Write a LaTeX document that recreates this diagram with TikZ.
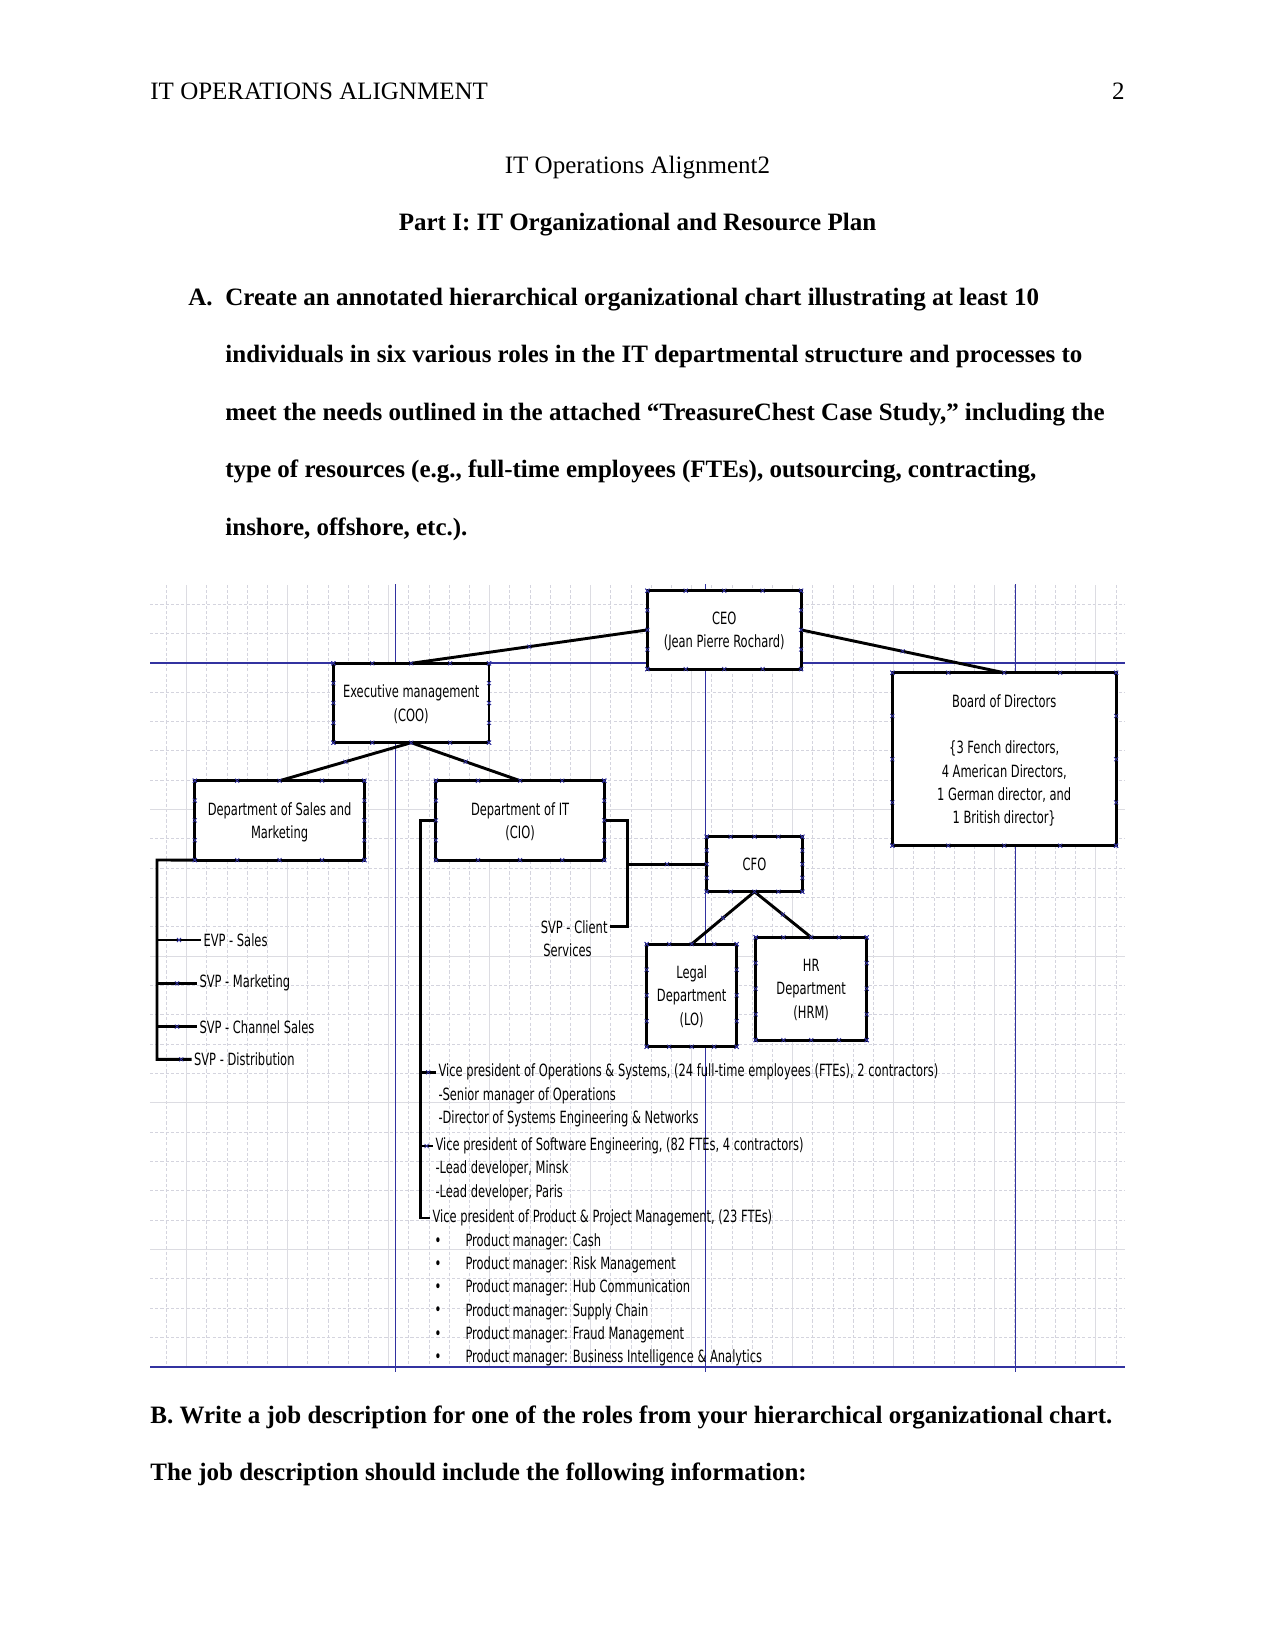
\documentclass[tikz,border=0pt]{standalone}
\usepackage{fontspec}
\setmainfont{Liberation Serif}
\newfontfamily\chartfont[FakeStretch=0.68]{DejaVu Sans}
\usepackage{tikz}
\usetikzlibrary{calc,shapes.misc}

\definecolor{gridgray}{RGB}{212,212,222}
\definecolor{gridline}{RGB}{220,220,226}
\definecolor{visioblue}{RGB}{50,50,160}

% connection points on the four edges of a box
\newcommand{\cpoints}[1]{%
  \foreach \f in {0,0.25,0.5,0.75,1}{%
    \node[cpx] at ($(#1.north west)!\f!(#1.north east)$) {};
    \node[cpx] at ($(#1.south west)!\f!(#1.south east)$) {};
    \node[cpx] at ($(#1.north west)!\f!(#1.south west)$) {};
    \node[cpx] at ($(#1.north east)!\f!(#1.south east)$) {};
  }}

\begin{document}
\begin{tikzpicture}[x=0.48pt, y=-0.48pt,
  pagetxt/.style={inner sep=0pt, font=\fontsize{12}{14}\selectfont},
  boldtxt/.style={inner sep=0pt, font=\fontsize{12}{14}\selectfont\bfseries},
  orgbox/.style={draw, fill=white, line width=1.4pt, align=center,
                 inner sep=0pt, outer sep=0pt, text depth=0pt,
                 font=\chartfont\fontsize{8.1}{11.2}\selectfont},
  listtxt/.style={inner sep=1pt, anchor=west,
                  font=\chartfont\fontsize{8.1}{11.2}\selectfont},
  conn/.style={line width=1.4pt},
  cpx/.style={cross out, draw=visioblue, line width=0.35pt,
              minimum size=1.6pt, inner sep=0pt},
  minorgrid/.style={gridgray, line width=0.4pt, dash pattern=on 1.5pt off 1pt},
  majorgrid/.style={gridline, line width=0.5pt},
  guide/.style={visioblue, line width=0.6pt}
]
\useasboundingbox (0,0) rectangle (1275,1651);

% page text
\node[pagetxt, anchor=base west] (runhead) at (150,99.5) {IT OPERATIONS ALIGNMENT};
\node[pagetxt, anchor=base east] (pageno) at (1125,99.5) {2};
\node[pagetxt, anchor=base] (title) at (637.5,174) {IT Operations Alignment2};
\node[boldtxt, anchor=base] (part) at (637.5,231) {Part I: IT Organizational and Resource Plan};
\node[boldtxt, anchor=base west] (itemA) at (188,305) {A.};
\foreach \l [count=\k from 0] in {{Create an annotated hierarchical organizational chart illustrating at least 10},
    {individuals in six various roles in the IT departmental structure and processes to},
    {meet the needs outlined in the attached “TreasureChest Case Study,” including the},
    {type of resources (e.g., full-time employees (FTEs), outsourcing, contracting,},
    {inshore, offshore, etc.).}}
  \node[boldtxt, anchor=base west] (a\k) at (225,{305+57.6*\k}) {\l};
\node[boldtxt, anchor=base west] (partB1) at (150,1423) {B. Write a job description for one of the roles from your hierarchical organizational chart.};
\node[boldtxt, anchor=base west] (partB2) at (150,1480) {The job description should include the following information:};

% drawing grid
\foreach \i in {0,...,47}
  \draw[minorgrid] ({166.5+20.2*\i},585) -- ({166.5+20.2*\i},1367);
\foreach \j in {0,...,25}
  \draw[minorgrid] (150,{604+29.33*\j}) -- (1125,{604+29.33*\j});
\foreach \i in {0,...,9}
  \draw[majorgrid] ({186.7+101*\i},585) -- ({186.7+101*\i},1367);
\foreach \j in {0,...,4}
  \draw[majorgrid] (150,{662.7+146.67*\j}) -- (1125,{662.7+146.67*\j});
\foreach \gx in {395.3,705.7,1015.3}
  \draw[guide] (\gx,584) -- (\gx,1372);
\draw[guide] (150,663) -- (1125,663);
\draw[guide, line width=1pt] (150,1367.3) -- (1125,1367.3);

% boxes
\node[orgbox, minimum width=73.8pt, minimum height=37.6pt] (ceo) at (724.2,629.9) {CEO\\(Jean Pierre Rochard)};
\node[orgbox, minimum width=74.7pt, minimum height=38.1pt] (coo) at (411.2,703) {Executive management\\(COO)};
\node[orgbox, minimum width=107.4pt, minimum height=83pt] (board) at (1004.2,759.2)
  {Board of Directors\\[11.2pt]\{3 Fench directors,\\4 American Directors,\\1 German director, and\\1 British director\}};
\node[orgbox, minimum width=81.4pt, minimum height=38.1pt] (sales) at (279.6,820.4) {Department of Sales and\\Marketing};
\node[orgbox, minimum width=80.8pt, minimum height=38.1pt] (it) at (520.1,820.4) {Department of IT\\(CIO)};
\node[orgbox, minimum width=45.9pt, minimum height=26.4pt] (cfo) at (754.5,864.2) {CFO};
\node[orgbox, minimum width=43.2pt, minimum height=49.3pt] (legal) at (691.7,995.4) {Legal\\Department\\(LO)};
\node[orgbox, minimum width=53.3pt, minimum height=49.3pt] (hr) at (811.2,988.7) {HR\\Department\\(HRM)};

\draw[conn] (ceo.west) -- node[cpx]{} (coo.north);
\draw[conn] (ceo.east) -- node[cpx]{} (board.north);
\draw[conn] (coo.south) -- node[cpx]{} (sales.north);
\draw[conn] (coo.south) -- node[cpx]{} (it.north);
\draw[conn] (cfo.south) -- node[cpx]{} (legal.north);
\draw[conn] (cfo.south) -- node[cpx]{} (hr.north);

% sales and marketing
\node[listtxt] (evp) at (201,940) {EVP - Sales};
\node[listtxt] (smkt) at (197,983.3) {SVP - Marketing};
\node[listtxt] (schan) at (197,1026.7) {SVP - Channel Sales};
\node[listtxt] (sdist) at (191.6,1059.3) {SVP - Distribution};
\draw[conn] (sales.south west) -- (157,860) coordinate (sbk) |- node[cpx, pos=0.85]{} (sdist.west);
\foreach \n in {evp,smkt,schan}
  \draw[conn] (sbk |- \n.west) -- node[cpx]{} (\n.west);

% IT department
\node[listtxt] (vpops) at (436,1072.3) {Vice president of Operations \& Systems, (24 full-time employees (FTEs), 2 contractors)};
\node[listtxt] (srops) at (436,1096) {-Senior manager of Operations};
\node[listtxt] (dirsys) at (436,1119.3) {-Director of Systems Engineering \& Networks};
\node[listtxt] (vpsw) at (433,1146) {Vice president of Software Engineering, (82 FTEs, 4 contractors)};
\node[listtxt] (ldminsk) at (433,1169.3) {-Lead developer, Minsk};
\node[listtxt] (ldparis) at (433,1192.7) {-Lead developer, Paris};
\node[listtxt] (vpprod) at (430,1218) {Vice president of Product \& Project Management, (23 FTEs)};
\foreach \t [count=\k from 0] in {Cash,Risk Management,Hub Communication,Supply Chain,Fraud Management,Business Intelligence \& Analytics}{
  \node[listtxt] (bul\k) at (432,{1241.7+23.3*\k}) {•};
  \node[listtxt] (pm\k) at (463,{1241.7+23.3*\k}) {Product manager: \t};
}
\draw[conn] (it.west) -- (420.4,820.4) coordinate (itbk) |- (vpprod.west);
\foreach \n in {vpops,vpsw}
  \draw[conn] (itbk |- \n.west) -- node[cpx]{} (\n.west);

\node[listtxt, anchor=east] (svpc) at (610,926.7) {SVP - Client};
\node[listtxt, anchor=center] (svcs) at (567.5,950) {Services};
\draw[conn] (it.east) -- (627.3,820.4) coordinate (itrb) |- (svpc.east);
\draw[conn] (itrb |- cfo.west) -- node[cpx]{} (cfo.west);

\foreach \b in {ceo,coo,board,sales,it,cfo,legal,hr}
  \cpoints{\b};
\end{tikzpicture}
\end{document}
